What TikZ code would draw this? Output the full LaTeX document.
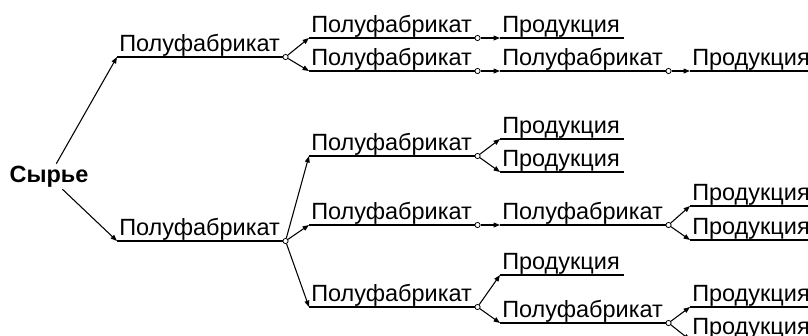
\documentclass[tikz,border=0pt]{standalone}
\usepackage{fontspec}
\setmainfont{Liberation Sans}
\usetikzlibrary{arrows.meta}

\begin{document}
\begin{tikzpicture}[x=0.75pt, y=-0.75pt,
    every node/.style={font=\fontsize{17.6pt}{20pt}\selectfont},
    item/.style={anchor=south west, inner xsep=1.5pt, inner ysep=0pt, text height=12.75pt, text depth=3.75pt, align=left},
    semi/.style={item, text width=123pt},
    prod/.style={item, text width=89.25pt},
    prodlong/.style={item, text width=115pt},
    dot/.style={circle, draw, fill=white, inner sep=0pt, minimum size=3.9pt, line width=0.6pt},
    line/.style={line width=0.8pt},
    arrow/.style={line width=0.8pt, -{Triangle[length=4.8pt,width=3.6pt]}}]

    \useasboundingbox (0,0) rectangle (808,336);
    \clip (0,0) rectangle (808,336);

    \node[font=\fontsize{17.6pt}{20pt}\selectfont\bfseries, inner sep=0pt, minimum height=18.75pt] (raw) at (49,176.5) {Сырье};

    \node[semi] (s1) at (117,57) {Полуфабрикат};
    \node[semi] (s2) at (117,241) {Полуфабрикат};

    \node[semi] (s11) at (309,38) {Полуфабрикат};
    \node[semi] (s12) at (309,71) {Полуфабрикат};
    \node[semi] (s21) at (309,156) {Полуфабрикат};
    \node[semi] (s22) at (309,225) {Полуфабрикат};
    \node[semi] (s23) at (309,307) {Полуфабрикат};

    \node[prod] (p11) at (500,38) {Продукция};
    \node[semi] (s121) at (500,71) {Полуфабрикат};
    \node[prod] (p211) at (500,139) {Продукция};
    \node[prod] (p212) at (500,172) {Продукция};
    \node[semi] (s221) at (500,225) {Полуфабрикат};
    \node[prod] (p231) at (500,275) {Продукция};
    \node[semi] (s231) at (500,323) {Полуфабрикат};

    \node[prodlong] (p121) at (690,71) {Продукция};
    \node[prodlong] (p2211) at (690,206) {Продукция};
    \node[prodlong] (p2212) at (690,240) {Продукция};
    \node[prodlong] (p2311) at (690,307) {Продукция};
    \node[prodlong] (p2312) at (690,340) {Продукция};

    \foreach \n in {s1,s2,s11,s12,s21,s22,s23,p11,s121,p211,p212,s221,p231,s231,p121,p2211,p2212,p2311,p2312}
        \draw[line] (\n.south west) -- (\n.south east);

    \foreach \n in {s1,s2,s11,s12,s21,s22,s23,s121,s221,s231}
        \node[dot] (\n-o) at (\n.south east) {};

    \draw[arrow] (raw) -- (s1.south west);
    \draw[arrow] (raw) -- (s2.south west);

    \draw[arrow] (s1-o) -- (s11.south west);
    \draw[arrow] (s1-o) -- (s12.south west);
    \draw[arrow] (s2-o) -- (s21.south west);
    \draw[arrow] (s2-o) -- (s22.south west);
    \draw[arrow] (s2-o) -- (s23.south west);

    \draw[arrow] (s11-o) -- (p11.south west);
    \draw[arrow] (s12-o) -- (s121.south west);
    \draw[arrow] (s21-o) -- (p211.south west);
    \draw[arrow] (s21-o) -- (p212.south west);
    \draw[arrow] (s22-o) -- (s221.south west);
    \draw[arrow] (s23-o) -- (p231.south west);
    \draw[arrow] (s23-o) -- (s231.south west);

    \draw[arrow] (s121-o) -- (p121.south west);
    \draw[arrow] (s221-o) -- (p2211.south west);
    \draw[arrow] (s221-o) -- (p2212.south west);
    \draw[arrow] (s231-o) -- (p2311.south west);
    \draw[arrow] (s231-o) -- (p2312.south west);
\end{tikzpicture}
\end{document}
